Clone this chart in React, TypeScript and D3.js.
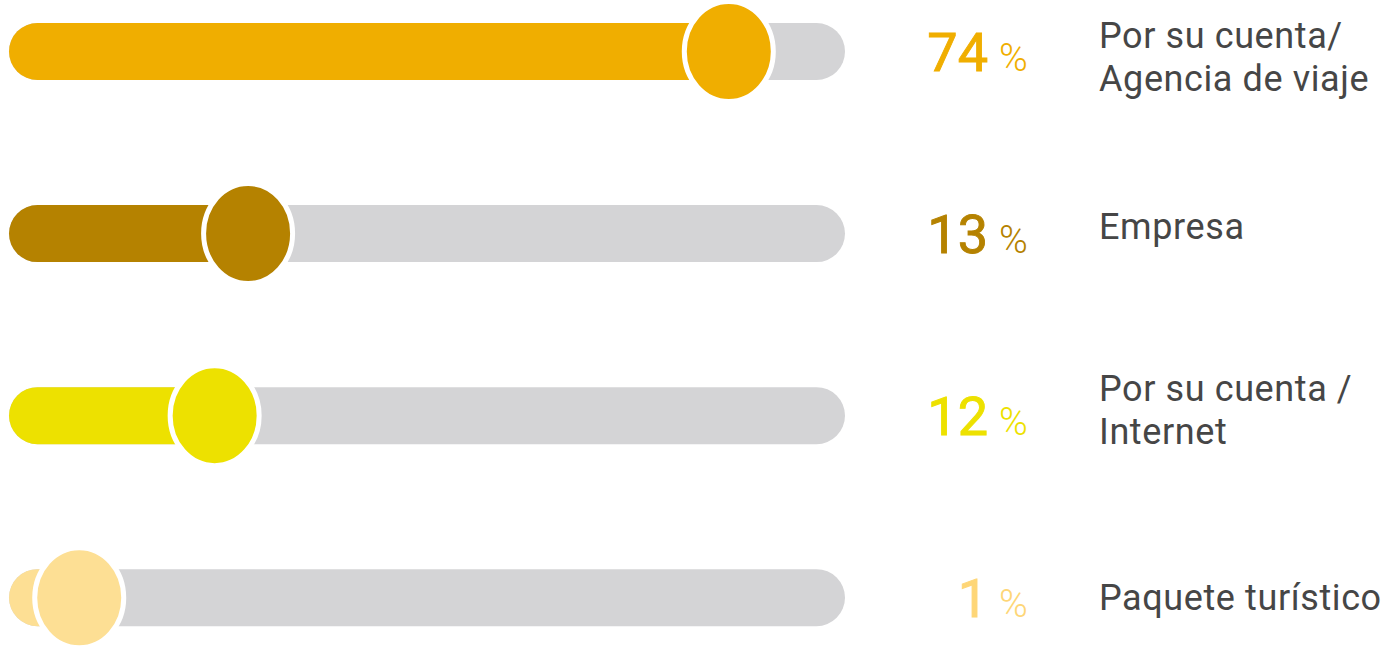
import React from "react";
import * as d3 from "d3";

// ---- data ----
const categories = ["agencia", "empresa", "internet", "paquete"];
const labels: string[][] = [
  ["Por su cuenta/", "Agencia de viaje"],
  ["Empresa"],
  ["Por su cuenta /", "Internet"],
  ["Paquete turístico"],
];
const values = [74, 13, 12, 1];
// knob position along the track, as drawn (percent of track length)
const knobPosition = [86.1, 28.6, 24.6, 8.4];
const colors = ["#F0AE00", "#B58200", "#EDE100", "#FDDF94"];
const numberColors = ["#F0AE00", "#B58200", "#EDE100", "#FED677"];

// ---- layout ----
const W = 1387;
const H = 647;
const trackH = 57;
const knobRx = 44.5;
const knobRy = 50;
// label first-baseline offsets relative to row center
const labelDy = [-3.2, 5.7, -14.5, 12.3];
const lineGap = 42.8;

export default function App() {
  const x = d3.scaleLinear().domain([0, 100]).range([9, 845]);
  const y = d3.scalePoint<string>().domain(categories).range([51.5, 597.7]);

  return (
    <svg
      width={W}
      height={H}
      style={{ position: "absolute", left: 0, top: 0, fontFamily: "Roboto, sans-serif" }}
    >
      <rect width={W} height={H} fill="#fff" />
      {categories.map((c, i) => {
        const cy = y(c)!;
        const kx = x(knobPosition[i]);
        return (
          <g key={c}>
            <rect
              x={x(0)}
              y={cy - trackH / 2}
              width={x(100) - x(0)}
              height={trackH}
              rx={trackH / 2}
              fill="#D4D4D6"
            />
            <rect
              x={x(0)}
              y={cy - trackH / 2}
              width={Math.max(kx - x(0), trackH)}
              height={trackH}
              rx={trackH / 2}
              fill={colors[i]}
            />
            <ellipse
              cx={kx}
              cy={cy}
              rx={knobRx}
              ry={knobRy}
              fill={colors[i]}
              stroke="#fff"
              strokeWidth={5}
            />
            <text
              x={988}
              y={cy + 19.5}
              textAnchor="end"
              fontSize={54}
              fontWeight={400}
              fill={numberColors[i]}
              stroke={numberColors[i]}
              strokeWidth={0.9}
            >
              {values[i]}
            </text>
            <text
              x={999}
              y={cy + 19.5}
              textAnchor="start"
              fontSize={39}
              fontWeight={300}
              fill={numberColors[i]}
            >
              %
            </text>
            <text x={1099} fontSize={36} letterSpacing={0.6} fill="#464646">
              {labels[i].map((l, j) => (
                <tspan key={j} x={1099} y={cy + labelDy[i] + j * lineGap}>
                  {l}
                </tspan>
              ))}
            </text>
          </g>
        );
      })}
    </svg>
  );
}
